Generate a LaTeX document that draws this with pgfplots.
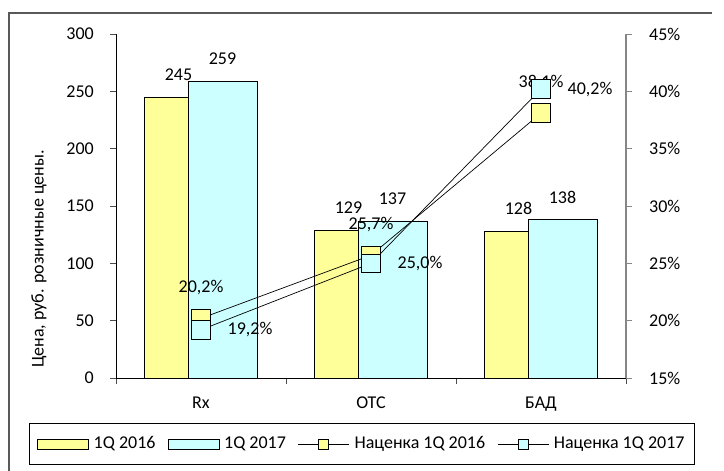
\documentclass[border=0pt]{standalone}
\usepackage{pgfplots}
\pgfplotsset{compat=1.18}
\usepackage{fontspec}
\setmainfont{Carlito}
\definecolor{yel}{HTML}{FFFF99}
\definecolor{cya}{HTML}{CCFFFF}
\definecolor{axgray}{HTML}{868686}
\pgfplotsset{
 barlegend/.style={legend image code/.code={\draw[##1] (0pt,-5pt) rectangle (51pt,5pt);}},
 linelegend/.style={legend image code/.code={\draw[mark repeat=2,mark phase=2,##1,mark size=5pt] plot coordinates {(0pt,0pt) (25.5pt,0pt) (51pt,0pt)};}},
}
\begin{document}
\fontsize{18}{21}\selectfont
\begin{tikzpicture}[x=1pt,y=1pt,font=\fontsize{18}{21}\selectfont]
\useasboundingbox (0,0) rectangle (724,471);
\draw[line width=1.5pt, black!65] (9,0) -- (9,458) -- (712,458);
\pgfplotsset{
 every axis/.append style={
  scale only axis, width=510pt, height=344pt,
  at={(116pt,93pt)}, anchor=south west,
  xmin=-0.5, xmax=2.5,
  /pgf/number format/assume math mode=true,
  tick align=outside, major tick length=6pt,
  every tick label/.append style={font=\fontsize{18}{21}\selectfont},
  label style={font=\fontsize{18}{21}\selectfont},
 }
}
\begin{axis}[
 ymin=0, ymax=300, ytick={0,50,...,300},
 axis y line*=left, axis x line*=bottom,
 xtick={-0.5,0.5,1.5,2.5}, xticklabels={},
 extra x ticks={0,1,2}, extra x tick labels={Rx,OTC,БАД},
 extra x tick style={major tick length=0pt, xticklabel style={yshift=-13pt}},
 yticklabel style={xshift=-10pt},
 tick style={black!70, line width=0.8pt},
 axis line style={black, line width=0.8pt},
 ylabel={Цена, руб. розничные цены.},
 ylabel style={at={(axis description cs:-0.151,0.346)}, anchor=center},
]
\addplot[ybar, bar width=69pt, bar shift=-22.5pt, fill=yel, draw=black, line width=0.6pt,
  nodes near coords, every node near coord/.style={anchor=south, yshift=10pt, xshift=-22.5pt, black, font=\fontsize{18}{21}\selectfont}]
 coordinates {(0,245) (1,129) (2,128)};
\addplot[ybar, bar width=69pt, bar shift=21.5pt, fill=cya, draw=black, line width=0.6pt,
  nodes near coords, every node near coord/.style={anchor=south, yshift=10pt, xshift=21.5pt, black, font=\fontsize{18}{21}\selectfont}]
 coordinates {(0,259) (1,137) (2,138)};
\end{axis}
\begin{axis}[
 ymin=15, ymax=45, ytick={15,20,...,45},
 axis y line*=right, axis x line=none,
 yticklabel={\pgfmathprintnumber{\tick}\%},
 yticklabel style={xshift=11pt},
 tick style={axgray, line width=0.8pt},
 axis line style={axgray, line width=1.2pt},
 legend columns=4,
 legend style={at={(axis description cs:0.482,-0.192)}, anchor=center,
   draw=black, line width=0.6pt, font=\fontsize{18}{21}\selectfont,
   inner xsep=8pt, inner ysep=11pt,
   /tikz/every odd column/.append style={column sep=3pt},
   /tikz/every even column/.append style={column sep=10pt}},
]
\addlegendimage{fill=yel, draw=black, line width=0.6pt, barlegend}
\addlegendentry{1Q 2016}
\addlegendimage{fill=cya, draw=black, line width=0.6pt, barlegend}
\addlegendentry{1Q 2017}
\addplot[black, line width=0.7pt, mark=square*, mark size=9.3pt,
  mark options={fill=yel, draw=black, line width=0.7pt},
  point meta=y,
  nodes near coords={\pgfmathprintnumber[fixed,fixed zerofill,precision=1,use comma]{\pgfplotspointmeta}\%},
  every node near coord/.style={anchor=center, yshift=31pt, black, font=\fontsize{18}{21}\selectfont},
  linelegend]
 coordinates {(0,20.2) (1,25.7) (2,38.1)};
\addlegendentry{Наценка 1Q 2016}
\addplot[black, line width=0.7pt, mark=square*, mark size=9.3pt,
  mark options={fill=cya, draw=black, line width=0.7pt},
  point meta=y,
  nodes near coords={\pgfmathprintnumber[fixed,fixed zerofill,precision=1,use comma]{\pgfplotspointmeta}\%},
  every node near coord/.style={anchor=center, xshift=49pt, black, font=\fontsize{18}{21}\selectfont},
  linelegend]
 coordinates {(0,19.2) (1,25.0) (2,40.2)};
\addlegendentry{Наценка 1Q 2017}
\end{axis}
\end{tikzpicture}
\end{document}
